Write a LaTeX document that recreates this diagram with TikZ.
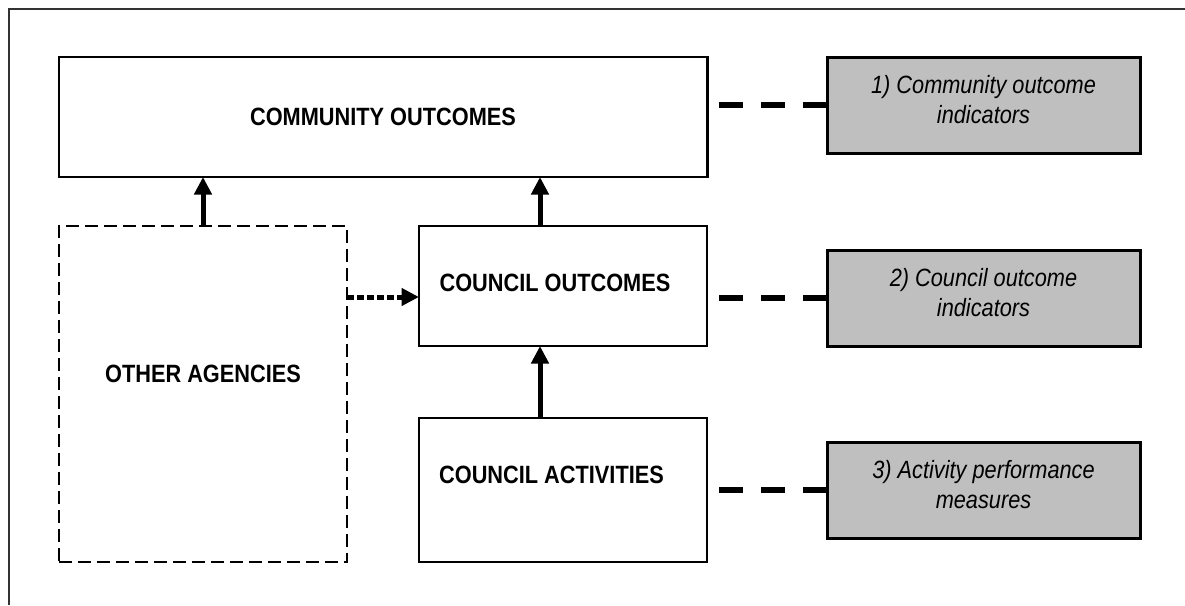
\documentclass[tikz,border=0pt]{standalone}
\usepackage{fontspec}
\setmainfont[FakeStretch=0.87]{Liberation Sans}
\usetikzlibrary{arrows.meta}

\tikzset{
  box/.style={draw,line width=1pt,inner sep=2pt,outer sep=0pt,font=\bfseries},
  ind/.style={draw,line width=1.2pt,fill=black!25,inner sep=2pt,outer sep=0pt,font=\itshape,align=center,
    text depth=4.8pt,minimum width=125.2pt,minimum height=38.4pt},
  up/.style={line width=2pt,-{Triangle[length=7pt,width=6.8pt]}},
  feed/.style={line width=2pt,dash pattern=on 2.6pt off 1.4pt,-{Triangle[length=7pt,width=6.8pt]}},
  link/.style={line width=2.2pt,dash pattern=on 9.6pt off 7.2pt},
  every label/.style={font=\bfseries}
}

\begin{document}
\begin{tikzpicture}[x=40pt,y=40pt]
\useasboundingbox (0,0) rectangle (11.85,6.05);
\draw[line width=0.8pt,black!80] (0.09,0) -- (0.09,5.96) -- (11.85,5.96);

\node[box,minimum width=259.4pt,minimum height=48pt] (comout) at (3.83,4.88) {COMMUNITY OUTCOMES};
\node[box,dash pattern=on 5.2pt off 2.4pt,line width=0.8pt,minimum width=115.4pt,minimum height=134.4pt,
  label={[yshift=8pt]center:OTHER AGENCIES}] (agencies) at (2.03,2.11) {};
\node[box,minimum width=115.2pt,minimum height=48pt,
  label={[xshift=-3.2pt,yshift=1.2pt]center:COUNCIL OUTCOMES}] (counout) at (5.63,3.19) {};
\node[box,minimum width=115.2pt,minimum height=57.6pt,
  label={[xshift=-4.6pt,yshift=6pt]center:COUNCIL ACTIVITIES}] (activ) at (5.63,1.15) {};

\node[ind] (ind1) at (9.835,5.00) {1) Community outcome\\indicators};
\node[ind] (ind2) at (9.835,3.07) {2) Council outcome\\indicators};
\node[ind] (ind3) at (9.835,1.15) {3) Activity performance\\measures};

\coordinate (a1) at ([xshift=-9.2pt]counout.north);
\coordinate (a2) at ([xshift=-9.2pt]activ.north);
\coordinate (d1) at ([yshift=38.8pt]agencies.east);
\draw[up] (agencies.north) -- (agencies.north |- comout.south);
\draw[up] (a1) -- (a1 |- comout.south);
\draw[up] (a2) -- (a2 |- counout.south);
\draw[feed] (d1) -- (d1 -| counout.west);

\draw[link] (ind1.west) -- (ind1.west -| comout.east);
\draw[link] (ind2.west) -- (ind2.west -| counout.east);
\draw[link] (ind3.west) -- (ind3.west -| activ.east);
\end{tikzpicture}
\end{document}
